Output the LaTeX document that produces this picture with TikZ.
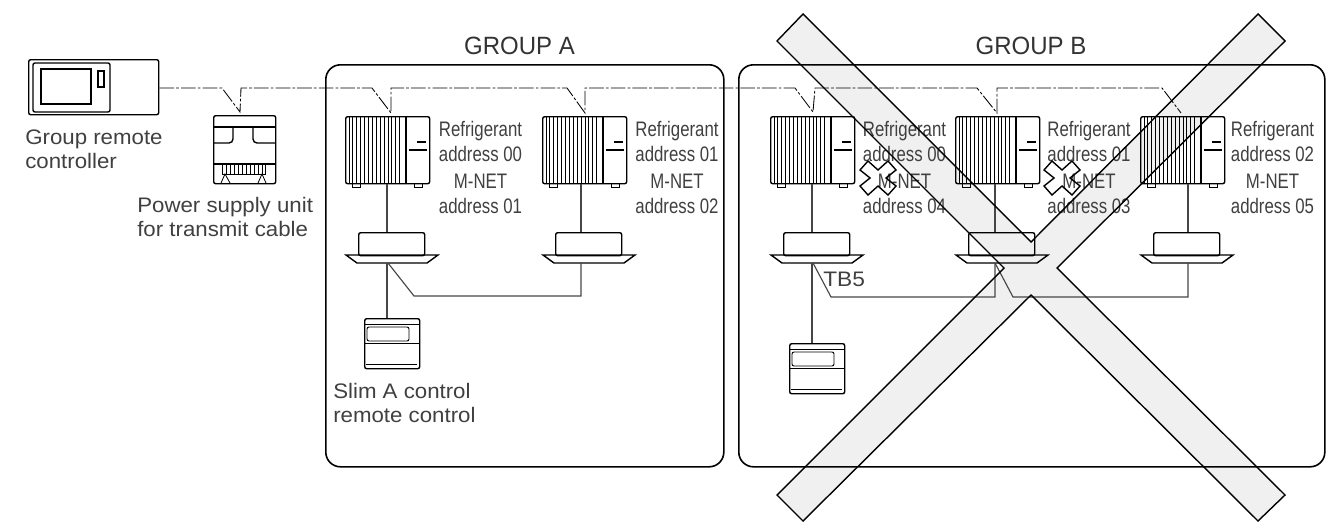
\documentclass[tikz,border=0pt]{standalone}
\usepackage{xcolor}
\usepackage{fontspec}
\setmainfont{Liberation Sans}
\usepackage{tikz}
\definecolor{bandgray}{RGB}{240, 240, 240}
\definecolor{inkgray}{RGB}{70, 70, 70}
\tikzset{
  outline/.style={draw=black, line width=1.05pt},
  wire/.style={draw=inkgray, line width=0.85pt},
  signal/.style={draw=black, line width=0.65pt, dash pattern=on 11pt off 1.6pt on 2pt off 1.6pt},
  boxunit/.style={outline, rectangle, rounded corners=1.5pt, inner sep=0pt, anchor=north west},
  caption/.style={inner sep=0pt, text=black!75, font=\fontsize{15.75pt}{18pt}\selectfont, align=left, anchor=west, transform shape, xscale=1.06},
  address/.style={inner sep=0pt, text=black!75, font=\fontsize{15.75pt}{19pt}\selectfont, align=center, transform shape, xscale=0.8},
  grouptitle/.style={inner sep=0pt, text=black!80, font=\fontsize{18.75pt}{22pt}\selectfont, transform shape, xscale=0.96}
}
\newcommand{\crossband}{(803,14) -- (1031,242) -- (1258,14) -- (1285,41) -- (1057,268) -- (1285,495) -- (1258,521) -- (1031,295) -- (803,521) -- (777,495) -- (1004,268) -- (777,41) -- cycle}
\newcommand{\crosssmall}{(-10,-17) -- (0,-8) -- (10,-17) -- (18,-8) -- (8,0) -- (18,8) -- (10,17) -- (0,8) -- (-10,17) -- (-18,8) -- (-8,0) -- (-18,-8) -- cycle}
\begin{document}
\begin{tikzpicture}[x=0.75pt, y=-0.75pt]
\useasboundingbox (0,0) rectangle (1333,522);
% Grey band behind everything
\fill[bandgray] \crossband;

% Group frames
\node[boxunit, rounded corners=11pt, line width=1.2pt, minimum width=398*0.75pt, minimum height=402*0.75pt] (frameA) at (325,64) {};
\node[boxunit, rounded corners=11pt, line width=1.2pt, minimum width=586*0.75pt, minimum height=402*0.75pt] (frameB) at (738,64) {};
\node[grouptitle] (titleA) at (519.5,46) {GROUP A};
\node[grouptitle] (titleB) at (1031,46) {GROUP B};

% Group remote controller
\node[boxunit, minimum width=130*0.75pt, minimum height=55*0.75pt] (grc) at (28,59) {};
\draw[outline, rounded corners=1.5pt] (33,63) rectangle (110,112);
\draw[outline] (41,69) rectangle (91,104);
\draw[outline] (98,71) rectangle (104,87);
\node[caption] (grctext) at (25,149) {Group remote\\controller};

% Power supply unit
\node[boxunit, minimum width=62*0.75pt, minimum height=68*0.75pt] (psu) at (213,115) {};
\begin{scope}[shift={(213,115)}]
\draw[outline] (0,12) -- (62,12);
\draw[outline, rounded corners=3pt] (0,28) -- (20,28) -- (20,12);
\draw[outline, rounded corners=3pt] (62,28) -- (40,28) -- (40,12);
\draw[outline] (0,49) -- (62,49);
\draw[outline, line width=0.7pt] (9,49) -- (9,59) -- (52,59) -- (52,49);
\foreach \f in {13,17,...,49} {
    \draw[line width=0.7pt] (\f,49) -- (\f,59);
}
\draw[line width=0.6pt] (8,68) -- (12,59) -- (17,68);
\draw[line width=0.6pt] (45,68) -- (49,59) -- (53,68);
\end{scope}
\node[caption] (psutext) at (137,217) {Power supply unit\\for transmit cable};

% Outdoor and indoor units
\foreach \n/\x/\w/\tx/\top/\bot in {1/345/387/480.5/00/01, 2/542/581/677/01/02, 3/770/812/904.5/00/04, 4/955/995/1089/01/03, 5/1140/1188/1272.5/02/05} {
\begin{scope}[shift={(\x,116)}]
\node[boxunit, minimum width=84*0.75pt, minimum height=67*0.75pt] (o\n) at (0,0) {};
\foreach \f in {4,7.9,...,56} {
    \draw[line width=0.65pt] (\f,0) -- (\f,67);
}
\draw[outline] (61,0) -- (61,67);
\draw[outline] (72,26) -- (81,26);
\draw[outline] (64,34) -- (82,34);
\draw[line width=0.6pt] (7,67) rectangle (15,71);
\draw[line width=0.6pt] (69,67) rectangle (77,71);
% Indoor unit below
\node[boxunit, minimum width=66*0.75pt, minimum height=23*0.75pt] (i\n) at (13,116) {};
\draw[outline] (1,139) -- (93,139) -- (82,147) -- (12,147) -- cycle;
\coordinate (p\n) at (13,147);
\end{scope}
\draw[wire] (o\n.south -| \w,0) -- (i\n.north -| \w,0);
\node[address] (t\n) at (\tx,167.5) {Refrigerant\\address \top\\[1pt]M-NET\\address \bot};
}

% Small marks beside M-NET
\begin{scope}[shift={(878,178)}]
\draw[outline] \crosssmall;
\end{scope}
\begin{scope}[shift={(1062,178)}]
\draw[outline] \crosssmall;
\end{scope}

% Slim remote, group A
\node[boxunit, minimum width=55*0.75pt, minimum height=50*0.75pt] (rcA) at (364,318) {};
\begin{scope}[shift={(364,318)}]
\draw[outline, line width=0.7pt] (0,6) -- (55,6);
\draw[outline, line width=0.7pt, rounded corners=1.5pt] (3,9) rectangle (45,23);
\draw[outline, line width=0.7pt] (0,25) -- (55,25);
\draw[outline, line width=0.7pt] (2,46) -- (53,46);
\end{scope}
\node[caption] (rcAtext) at (333,403) {Slim A control\\remote control};

% Slim remote, group B
\node[boxunit, minimum width=55*0.75pt, minimum height=50*0.75pt] (rcB) at (789,343) {};
\begin{scope}[shift={(789,343)}]
\draw[outline, line width=0.7pt] (0,6) -- (55,6);
\draw[outline, line width=0.7pt, rounded corners=1.5pt] (3,9) rectangle (45,23);
\draw[outline, line width=0.7pt] (0,25) -- (55,25);
\draw[outline, line width=0.7pt] (2,46) -- (53,46);
\end{scope}

\node[caption, xscale=1.02, anchor=base west] (tb) at (823,286) {TB5};

% Wiring under the indoor units
\draw[wire] (p1 -| 387,0) -- (rcA.north -| 387,0);
\draw[wire] (p3 -| 812,0) -- (rcB.north -| 812,0);
\draw[wire] (p1 -| 388,0) -- (414,296) -- (581,296) -- (p2 -| 581,0);
\draw[wire] (p3 -| 813,0) -- (831,297) -- (995,297) -- (p4 -| 995,0);
\draw[wire] (p4 -| 995,0) -- (1013,297) -- (1188,297) -- (p5 -| 1188,0);

% Signal line
\draw[signal] (grc.east |- 0,88) -- (222,88) -- (240,112) -- (241,88) -- (372,88) -- (391,113) -- (391,88) -- (567,88) -- (585,113) -- (585,88) -- (795,88) -- (813,112) -- (815,88) -- (977,88) -- (997,113) -- (997,88) -- (1162,88) -- (1181,113);

% Band outline on top
\draw[outline] \crossband;
\end{tikzpicture}
\end{document}
